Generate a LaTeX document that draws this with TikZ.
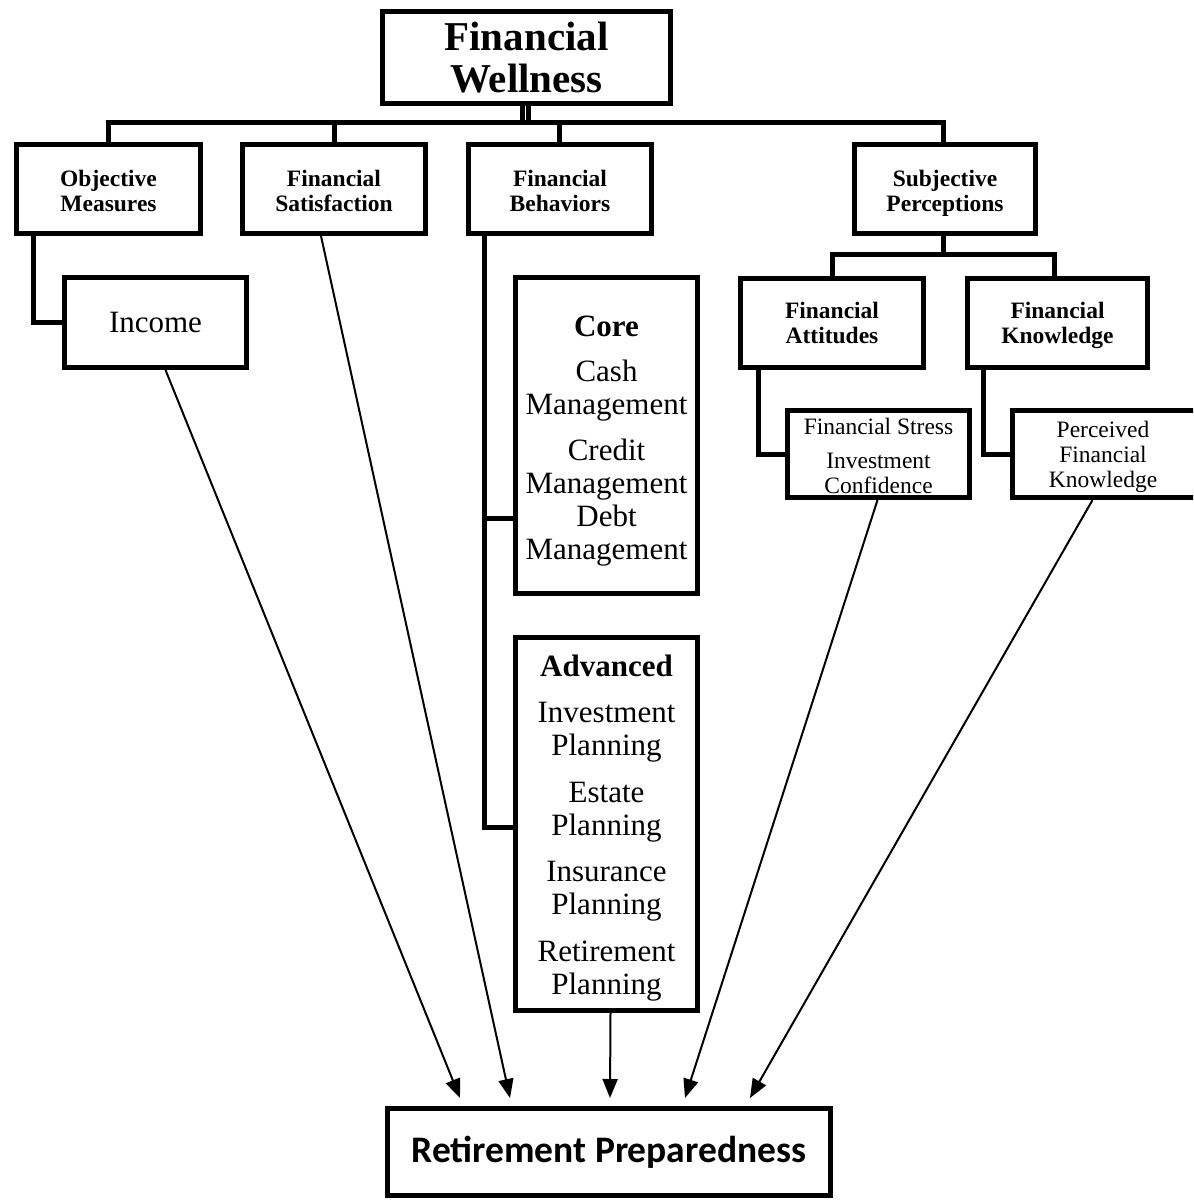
\documentclass[tikz,border=0pt]{standalone}
\usepackage{fontspec}
\setmainfont{Liberation Serif}
\newfontfamily\calfont{Carlito}
\usetikzlibrary{arrows.meta,calc}
\begin{document}
\begin{tikzpicture}[x=1pt,y=-1pt,
  box/.style={draw, line width=5pt, rectangle, inner sep=0pt, align=center, fill=white},
  conn/.style={line width=5pt, line join=miter},
  arr/.style={line width=2pt, -{Triangle[length=19pt,width=15pt]}},
  hd/.style={font=\bfseries\fontsize{23.5}{25}\selectfont},
  bodyfont/.style={font=\fontsize{31}{33}\selectfont},
  smallfont/.style={font=\fontsize{23.5}{25}\selectfont}
]
\useasboundingbox (0,0) rectangle (1193,1201);
\begin{scope}
\clip (0,0) rectangle (1193,1201);
% top
\node[box, minimum width=288, minimum height=92, font=\bfseries\fontsize{41}{42}\selectfont] (fw) at (526.5,57.5) {Financial\\Wellness};
% level 2
\node[box, hd, minimum width=184, minimum height=89] (om) at (108.5,189) {\rule{0pt}{20pt}Objective\\Measures};
\node[box, hd, minimum width=183, minimum height=89] (fsat) at (334,189) {\rule{0pt}{20pt}Financial\\Satisfaction};
\node[box, hd, minimum width=183, minimum height=89] (fb) at (560,189) {\rule{0pt}{20pt}Financial\\Behaviors};
\node[box, hd, minimum width=181, minimum height=89] (sp) at (945,189) {\rule{0pt}{20pt}Subjective\\\smash{Perceptions}};
% level 3
\node[box, bodyfont, minimum width=182, minimum height=90] (inc) at (155.5,322.5) {Income};
\node[box, bodyfont, minimum width=182, minimum height=316] (core) at (606.5,435.5)
  {\rule{0pt}{31pt}\textbf{Core}\\[12pt]Cash\\Management\\[13pt]Credit\\Management\\Debt\\Management};
\node[box, bodyfont, minimum width=182, minimum height=373] (adv) at (606.5,824)
  {\rule{0pt}{30pt}\textbf{Advanced}\\[13pt]Investment\\Planning\\[14pt]Estate\\Planning\\[13pt]Insurance\\Planning\\[14pt]Retirement\\Planning};
\node[box, hd, minimum width=183, minimum height=89] (fa) at (832,322.5) {Financial\\Attitudes};
\node[box, hd, minimum width=180, minimum height=89] (fk) at (1057.5,322.5) {Financial\\\smash{Knowledge}};
\node[box, smallfont, minimum width=182, minimum height=87] (fst) at (878.5,454)
  {\rule{0pt}{20pt}Financial Stress\\[9pt]Investment\\Confidence};
\node[box, minimum width=200, minimum height=87] (pfk) at (1112.5,454) {};
\node[smallfont, align=center, inner sep=0pt] (pfkt) at ($(pfk.center)+(-9.5,3)$) {Perceived\\Financial\\Knowledge};
% bottom
\node[box, minimum width=443, minimum height=87, font=\calfont\bfseries\fontsize{37.5}{40}\selectfont] (rp) at (609,1152) {Retirement Preparedness};

% tree connectors
\draw[conn] (fw.south) ++(-4,0) -- ++(0,17) -| (om.north);
\draw[conn] (fw.south) ++(-4,0) -- ++(0,17) -| (fsat.north);
\draw[conn] (fw.south) ++(-4,0) -- ++(0,17) -| ($(fb.north)+(-1,0)$);
\draw[conn] (fw.south) ++(2,0) -- ++(0,17) -| ($(sp.north)+(-2,0)$);

\draw[conn] ($(om.south west)+(19,0)$) |- (inc.west);
\draw[conn] ($(fb.south west)+(18,0)$) coordinate (fbs) -- ($(fbs)+(0,591)$) -- (adv.west |- 0,827);
\draw[conn] (fbs |- 0,518) -- (core.west |- 0,518);

\draw[conn] ($(sp.south)+(-2,0)$) -- ++(0,18) coordinate (sbus) -| (fa.north);
\draw[conn] (sbus) -| ($(fk.north)+(-3,0)$);
\draw[conn] ($(fa.south west)+(20,0)$) |- (fst.west);
\draw[conn] ($(fk.south west)+(18,0)$) |- (pfk.west);

% arrows to retirement preparedness
\draw[arr] ($(inc.south)+(10,0)$) -- ($(rp.north)+(-149,-8)$);
\draw[arr] ($(fsat.south)+(-13,0)$) -- ($(rp.north)+(-99,-8)$);
\draw[arr] ($(adv.south)+(4,0)$) -- ($(rp.north)+(1,-8)$);
\draw[arr] ($(fst.south)+(-1,0)$) -- ($(rp.north)+(76,-8)$);
\draw[arr] ($(pfk.south)+(-20,0)$) -- ($(rp.north)+(141,-8)$);
\end{scope}
\end{tikzpicture}
\end{document}
